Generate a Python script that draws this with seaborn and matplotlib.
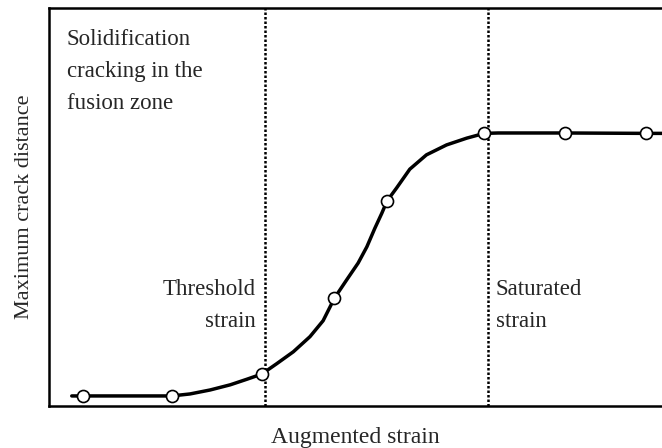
import numpy as np
import pandas as pd
import matplotlib
matplotlib.use("Agg")
import matplotlib.pyplot as plt
import seaborn as sns

# measured points (open circles)
strain = [0.39, 1.40, 2.43, 3.26, 3.86, 4.97, 5.89, 6.82]
crack = [0.25, 0.25, 0.80, 2.71, 5.15, 6.85, 6.85, 6.85]

# trend curve
curve_x = [0.26, 0.39, 1.40, 1.61, 1.84, 2.07, 2.26, 2.43, 2.60, 2.79, 2.98,
           3.13, 3.26, 3.40, 3.53, 3.63, 3.72, 3.80, 3.86, 3.97, 4.12, 4.31,
           4.54, 4.77, 4.97, 5.13, 5.89, 6.82, 7.0]
curve_y = [0.25, 0.25, 0.25, 0.30, 0.40, 0.53, 0.67, 0.80, 1.06, 1.36, 1.74,
           2.14, 2.71, 3.17, 3.59, 4.00, 4.46, 4.84, 5.15, 5.48, 5.95, 6.31,
           6.56, 6.73, 6.85, 6.86, 6.86, 6.85, 6.85]

threshold = 2.47
saturated = 5.01

sns.set_style("white")
plt.rcParams['font.family'] = ['Liberation Serif', 'DejaVu Serif']

fig = plt.figure(figsize=(6.62, 4.48), dpi=100)
ax = fig.add_axes([0.074, 0.094, 0.926, 0.888])

pts = pd.DataFrame({"x": strain, "y": crack})
line = pd.DataFrame({"x": curve_x, "y": curve_y})

sns.lineplot(data=line, x="x", y="y", color="black", lw=2.5, sort=False, ax=ax,
             zorder=3, solid_joinstyle="round", solid_capstyle="round")
sns.scatterplot(data=pts, x="x", y="y", s=75, color="white", edgecolor="black",
                linewidth=1.2, ax=ax, zorder=4)

ax.axvline(threshold, color="black", ls=(0, (1, 0.8)), lw=1.8, zorder=2)
ax.axvline(saturated, color="black", ls=(0, (1, 0.8)), lw=1.8, zorder=2)

ax.set_xlim(0, 7.0)
ax.set_ylim(0, 10)
ax.set_xticks([])
ax.set_yticks([])

for s in ["left", "top", "bottom"]:
    ax.spines[s].set_color("black")
    ax.spines[s].set_linewidth(1.8)
ax.spines["right"].set_visible(False)

fs = 16.5
for txt, yy in zip(["Solidification", "cracking in the", "fusion zone"], [9.07, 8.27, 7.46]):
    ax.text(0.2, yy, txt, fontsize=fs, va="baseline", ha="left")
for txt, yy in zip(["Threshold", "strain"], [2.79, 1.98]):
    ax.text(2.36, yy, txt, fontsize=fs, va="baseline", ha="right")
for txt, yy in zip(["Saturated", "strain"], [2.79, 1.98]):
    ax.text(5.10, yy, txt, fontsize=fs, va="baseline", ha="left")

ax.set_xlabel("Augmented strain", fontsize=17, labelpad=15)
ax.set_ylabel("Maximum crack distance", fontsize=16, labelpad=11)

fig.savefig("out.png", dpi=100)
